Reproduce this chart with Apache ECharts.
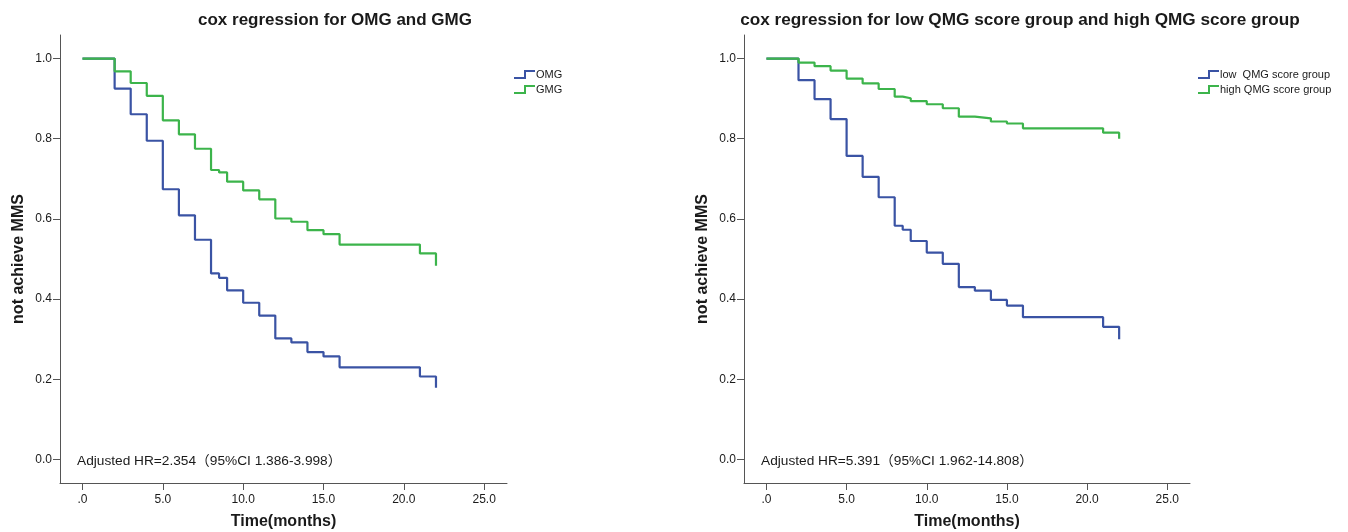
<!DOCTYPE html>
<html>
<head>
<meta charset="utf-8">
<script src="https://cdn.jsdelivr.net/npm/echarts@6/dist/echarts.min.js"></script>
<style>
html,body{margin:0;padding:0;background:#fff;}
#chart{width:1348px;height:532px;}
</style>
</head>
<body>
<div id="chart"></div>
<script>
// ---- data ----
const times = [0, 2, 3, 4, 5, 6, 7, 8, 8.5, 9, 10, 11, 12, 13, 14, 15, 16, 21, 22];
const omg  = [1, 0.925, 0.861, 0.795, 0.674, 0.609, 0.548, 0.464, 0.453, 0.422, 0.391, 0.359, 0.302, 0.292, 0.268, 0.257, 0.230, 0.207, 0.179];
const gmg  = [1, 0.968, 0.939, 0.907, 0.846, 0.811, 0.775, 0.722, 0.716, 0.693, 0.671, 0.649, 0.601, 0.593, 0.572, 0.562, 0.536, 0.514, 0.483];
const lowQMG  = [1, 0.946, 0.899, 0.849, 0.757, 0.705, 0.654, 0.583, 0.573, 0.545, 0.516, 0.488, 0.430, 0.421, 0.398, 0.384, 0.355, 0.331, 0.300];
const highQMG = [1, 0.990, 0.981, 0.970, 0.950, 0.938, 0.924, 0.905, 0.901, 0.894, 0.886, 0.876, 0.855, 0.851, 0.843, 0.838, 0.826, 0.815, 0.800];
const xTicks = [0, 5, 10, 15, 20, 25];
const xTickLabels = ['.0', '5.0', '10.0', '15.0', '20.0', '25.0'];
const yTicks = [0, 0.2, 0.4, 0.6, 0.8, 1.0];
const yTickLabels = ['0.0', '0.2', '0.4', '0.6', '0.8', '1.0'];
const titles = ['cox regression for OMG and GMG', 'cox regression for low QMG score group and high QMG score group'];
const seriesNames = [['OMG', 'GMG'], ['low  QMG score group', 'high QMG score group']];
const notes = ['Adjusted HR=2.354\uFF0895%CI 1.386-3.998\uFF09', 'Adjusted HR=5.391\uFF0895%CI 1.962-14.808\uFF09'];
const xName = 'Time(months)';
const yName = 'not achieve MMS';

// ---- style ----
const BLUE = '#3a53a4';
const GREEN = '#3cb44b';
const AXIS = '#555';
const TXT = '#1a1a1a';
const FONT = '"Liberation Sans", Arial, "Noto Sans CJK SC", sans-serif';
const stepIcon = 'path://M0,7 L10,7 L10,0 L21,0 L21,2 L12,2 L12,9 L0,9 Z';

const pairs = (ys) => times.map((t, i) => [t, ys[i]]);

function xAxis(gi) {
  return {
    gridIndex: gi, type: 'value', min: -1.4, max: 26.42,
    name: xName, nameLocation: 'middle', nameGap: 31,
    nameTextStyle: {fontFamily: FONT, fontWeight: 'bold', fontSize: 16, color: TXT},
    axisLine: {show: true, onZero: false, lineStyle: {color: AXIS, width: 1}},
    axisTick: {show: true, length: 7, customValues: xTicks, lineStyle: {color: AXIS}},
    axisLabel: {customValues: xTicks, margin: 11, fontFamily: FONT, fontSize: 12, color: TXT,
      formatter: (v) => xTickLabels[xTicks.indexOf(v)]},
    splitLine: {show: false}
  };
}
function yAxis(gi) {
  return {
    gridIndex: gi, type: 'value', min: -0.0586, max: 1.0587,
    name: yName, nameLocation: 'middle', nameGap: 33, nameRotate: 90,
    nameTextStyle: {fontFamily: FONT, fontWeight: 'bold', fontSize: 16, color: TXT},
    axisLine: {show: true, onZero: false, lineStyle: {color: AXIS, width: 1}},
    axisTick: {show: true, length: 7, customValues: yTicks, lineStyle: {color: AXIS}},
    axisLabel: {customValues: yTicks, margin: 8, fontFamily: FONT, fontSize: 12, color: TXT,
      formatter: (v) => yTickLabels[yTicks.findIndex(t => Math.abs(t - v) < 1e-9)]},
    splitLine: {show: false}
  };
}
function line(name, ys, color, gi) {
  return {
    name: name, type: 'line', step: 'end', xAxisIndex: gi, yAxisIndex: gi,
    data: pairs(ys), symbol: 'none', color: color,
    lineStyle: {color: color, width: 2.2}, animation: false, silent: true
  };
}
function legend(gi, left) {
  return {
    data: seriesNames[gi], orient: 'vertical', left: left, top: 64,
    icon: stepIcon, itemWidth: 21, itemHeight: 10, itemGap: 4,
    itemStyle: {borderWidth: 0},
    textStyle: {fontFamily: FONT, fontSize: 11, color: TXT, padding: [0, 0, 0, -4]},
    selectedMode: false
  };
}

const chart = echarts.init(document.getElementById('chart'), null, {renderer: 'canvas'});
chart.setOption({
  backgroundColor: '#fff',
  animation: false,
  grid: [
    {left: 60, top: 35, width: 447, height: 448, containLabel: false, outerBoundsMode: 'none'},
    {left: 744, top: 35, width: 446, height: 448, containLabel: false, outerBoundsMode: 'none'}
  ],
  xAxis: [xAxis(0), xAxis(1)],
  yAxis: [yAxis(0), yAxis(1)],
  legend: [legend(0, 509), legend(1, 1193)],
  series: [
    line(seriesNames[0][0], omg, BLUE, 0),
    line(seriesNames[0][1], gmg, GREEN, 0),
    line(seriesNames[1][0], lowQMG, BLUE, 1),
    line(seriesNames[1][1], highQMG, GREEN, 1)
  ],
  graphic: [
    {type: 'text', x: 335, y: 12, style: {text: titles[0], font: 'bold 17px ' + FONT, fill: TXT, align: 'center'}},
    {type: 'text', x: 1020, y: 12, style: {text: titles[1], font: 'bold 17.2px ' + FONT, fill: TXT, align: 'center'}},
    {type: 'text', x: 77, y: 454, style: {text: notes[0], font: '13.7px ' + FONT, fill: TXT}},
    {type: 'text', x: 761, y: 454, style: {text: notes[1], font: '13.7px ' + FONT, fill: TXT}}
  ]
});
</script>
</body>
</html>
